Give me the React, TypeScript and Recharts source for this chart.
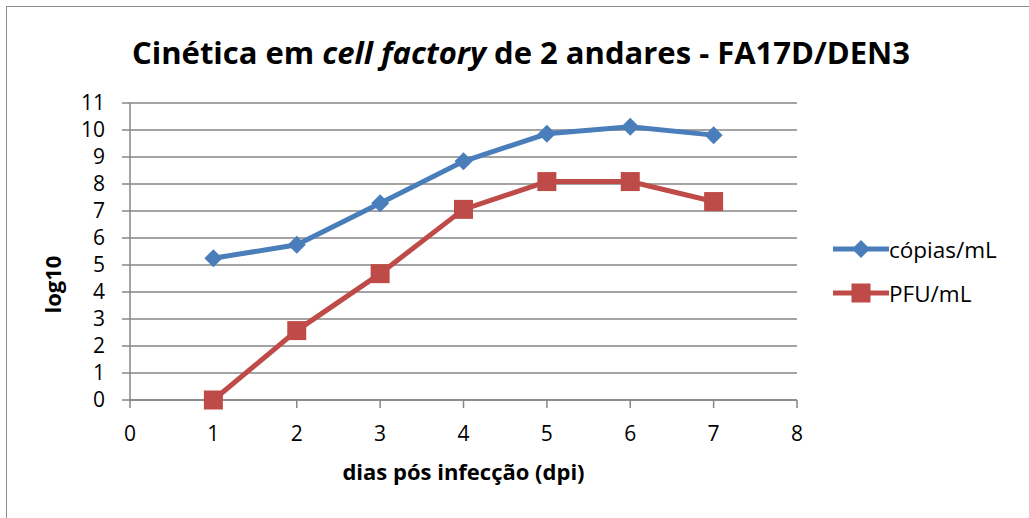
import { CartesianGrid, Legend, Line, LineChart, XAxis, YAxis } from "recharts";

// dias pós infecção
const days = [1, 2, 3, 4, 5, 6, 7];
// log10 cópias/mL
const copias = [5.25, 5.75, 7.29, 8.84, 9.86, 10.12, 9.81];
// log10 PFU/mL
const pfu = [0, 2.57, 4.68, 7.06, 8.09, 8.09, 7.35];

const xTicks = [0, 1, 2, 3, 4, 5, 6, 7, 8];
const yTicks = [0, 1, 2, 3, 4, 5, 6, 7, 8, 9, 10, 11];

const data = days.map((d, i) => ({ dia: d, copias: copias[i], pfu: pfu[i] }));

const BLUE = "#4a7ebb";
const RED = "#be4b48";
const GRID = "#868686";
const FONT = "'Open Sans', 'Liberation Sans', sans-serif";

const Diamond = (props: any) => {
  const { cx, cy, index } = props;
  const r = 9;
  return (
    <polygon
      key={`d-${index}`}
      points={`${cx},${cy - r} ${cx + r},${cy} ${cx},${cy + r} ${cx - r},${cy}`}
      fill={BLUE}
    />
  );
};

const Square = (props: any) => {
  const { cx, cy, index } = props;
  const s = 19;
  return <rect key={`s-${index}`} x={cx - s / 2} y={cy - s / 2} width={s} height={s} fill={RED} />;
};

const legendItems = [
  { name: "cópias/mL", color: BLUE, shape: "diamond" },
  { name: "PFU/mL", color: RED, shape: "square" },
];

const LegendContent = () => (
  <div style={{ fontFamily: FONT, fontSize: 22.5, color: "#000" }}>
    {legendItems.map((it) => (
      <div key={it.name} style={{ display: "flex", alignItems: "center", height: 44 }}>
        <svg width={56} height={22}>
          <line x1={0} y1={11} x2={56} y2={11} stroke={it.color} strokeWidth={5} />
          {it.shape === "diamond" ? (
            <polygon points="28,2 37,11 28,20 19,11" fill={it.color} />
          ) : (
            <rect x={18.5} y={1.5} width={19} height={19} fill={it.color} />
          )}
        </svg>
        <span style={{ marginLeft: 0 }}>{it.name}</span>
      </div>
    ))}
  </div>
);

export default function App() {
  return (
    <div
      style={{
        position: "absolute",
        left: 0,
        top: 0,
        width: 1029,
        height: 518,
        background: "#fff",
        overflow: "hidden",
      }}
    >
      <div
        style={{
          position: "absolute",
          left: 6,
          top: 6,
          width: 1040,
          height: 540,
          border: "1.5px solid #8c8c8c",
          boxSizing: "border-box",
        }}
      />
      <div
        style={{
          position: "absolute",
          left: 6,
          top: 31,
          width: 1030,
          textAlign: "center",
          fontFamily: FONT,
          fontWeight: 700,
          fontSize: 31,
          color: "#000",
        }}
      >
        Cinética em <i>cell factory</i> de 2 andares - FA17D/DEN3
      </div>
      <div style={{ position: "absolute", left: 0, top: 0 }}>
        <LineChart
          width={1029}
          height={518}
          data={data}
          margin={{ top: 103, right: 232, bottom: 88, left: 80 }}
        >
          <CartesianGrid horizontal vertical={false} stroke={GRID} strokeWidth={1.5} />
          <XAxis
            dataKey="dia"
            type="number"
            domain={[0, 8]}
            ticks={xTicks}
            interval={0}
            height={30}
            stroke={GRID}
            strokeWidth={1.5}
            tickSize={8}
            tickMargin={18}
            tick={{ fill: "#000", fontSize: 21, fontFamily: FONT }}
            label={{
              value: "dias pós infecção (dpi)",
              position: "insideBottom",
              offset: -50,
              style: { fontFamily: FONT, fontWeight: 700, fontSize: 22, fill: "#000" },
            }}
          />
          <YAxis
            type="number"
            domain={[0, 11]}
            ticks={yTicks}
            interval={0}
            width={50}
            stroke={GRID}
            strokeWidth={1.5}
            tickSize={8}
            tickMargin={17}
            tick={{ fill: "#000", fontSize: 21, fontFamily: FONT }}
            label={{
              value: "log10",
              angle: -90,
              position: "insideLeft",
              offset: -27,
              dy: 33,
              style: { fontFamily: FONT, fontWeight: 700, fontSize: 22, fill: "#000", textAnchor: "middle" },
            }}
          />
          <Legend
            layout="vertical"
            verticalAlign="middle"
            align="center"
            content={<LegendContent />}
            wrapperStyle={{ left: 833, top: 227, width: 196 }}
          />
          <Line
            dataKey="copias"
            name="cópias/mL"
            stroke={BLUE}
            strokeWidth={5}
            dot={Diamond}
            activeDot={false}
            isAnimationActive={false}
          />
          <Line
            dataKey="pfu"
            name="PFU/mL"
            stroke={RED}
            strokeWidth={5}
            dot={Square}
            activeDot={false}
            isAnimationActive={false}
          />
        </LineChart>
      </div>
    </div>
  );
}
